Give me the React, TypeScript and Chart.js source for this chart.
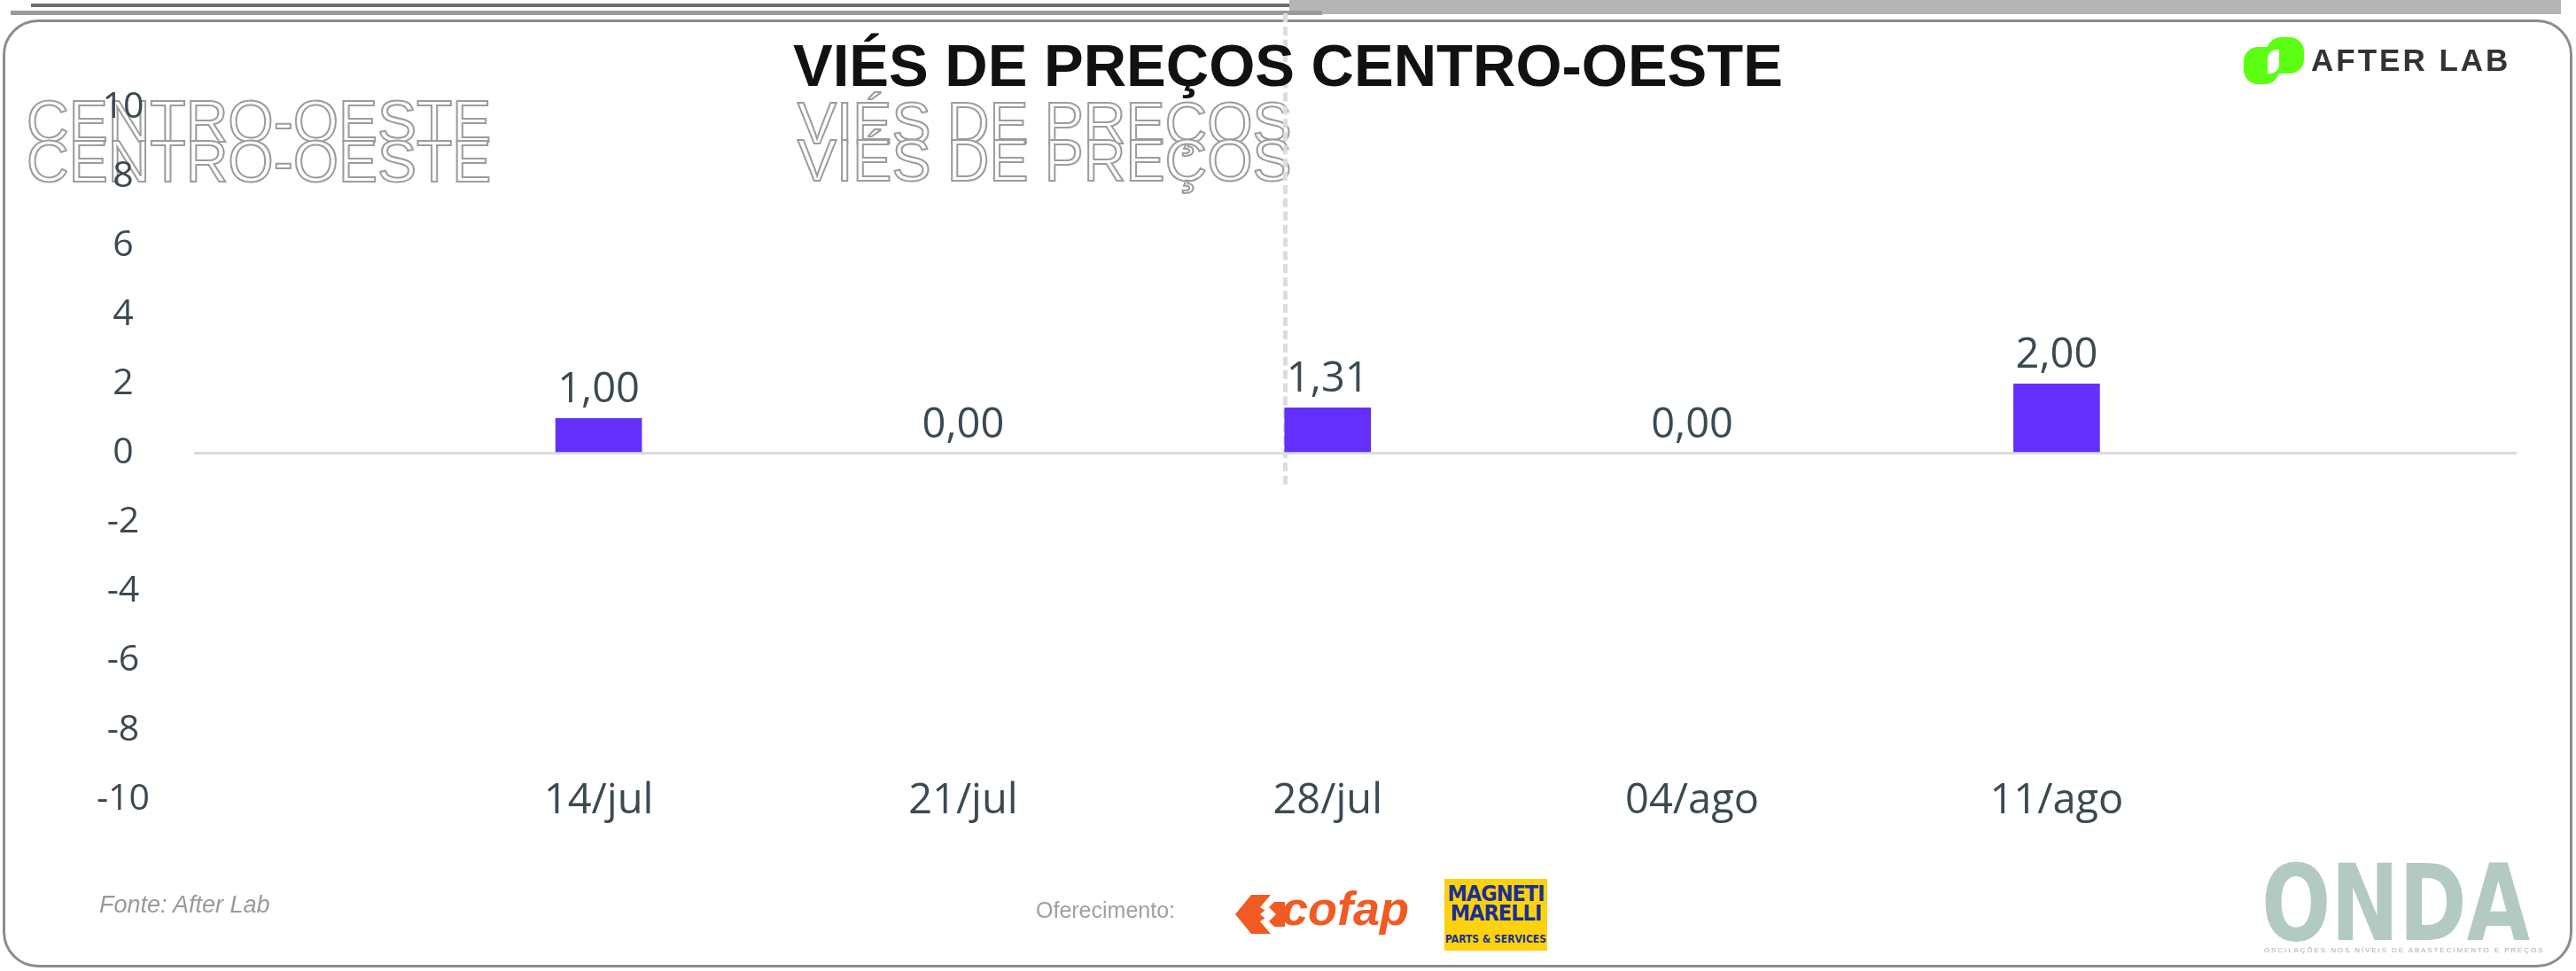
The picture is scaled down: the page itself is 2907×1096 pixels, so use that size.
import React, { useEffect, useRef } from 'react';
import { Chart, registerables } from 'chart.js';

Chart.register(...registerables);

// ---- data ----
const categories = ['14/jul', '21/jul', '28/jul', '04/ago', '11/ago'];
const values = [1.0, 0.0, 1.31, 0.0, 2.0];
const categoryPositions = [0, 1, 2, 3, 4];
const yMin = -10;
const yMax = 10;
const yStep = 2;
const xMin = -1.11;
const xMax = 5.262;

const TEXT = '#3b4a51';
const BAR = '#6330fb';

const fmt = (v: number) => v.toFixed(2).replace('.', ',');

const valueLabels = {
  id: 'valueLabels',
  afterDatasetsDraw(chart: any) {
    const ctx = chart.ctx;
    const meta = chart.getDatasetMeta(0);
    ctx.save();
    ctx.font = '47px "Open Sans"';
    ctx.fillStyle = TEXT;
    ctx.textAlign = 'center';
    ctx.textBaseline = 'alphabetic';
    meta.data.forEach((el: any, i: number) => {
      const top = Math.min(el.y, el.base);
      ctx.fillText(fmt(values[i]), el.x, top - 18);
    });
    ctx.restore();
  },
};

function ChartCanvas() {
  const ref = useRef<HTMLCanvasElement>(null);
  useEffect(() => {
    if (!ref.current) return;
    const chart = new Chart(ref.current, {
      type: 'bar',
      data: {
        datasets: [
          {
            data: categoryPositions.map((x, i) => ({ x, y: values[i] })),
            backgroundColor: (c: any) => (c.raw && c.raw.y === 0 ? 'rgba(0,0,0,0)' : BAR),
            borderWidth: 0,
            barThickness: 97,
          },
        ],
      },
      options: {
        animation: false,
        responsive: true,
        maintainAspectRatio: false,
        layout: { padding: { left: 0, right: 67, top: 121, bottom: 134 } },
        plugins: { legend: { display: false }, tooltip: { enabled: false } },
        scales: {
          x: {
            type: 'linear',
            offset: false,
            min: xMin,
            max: xMax,
            grid: { display: false, drawTicks: false },
            border: { display: false },
            afterBuildTicks: (s: any) => {
              s.ticks = categoryPositions.map((v) => ({ value: v }));
            },
            afterFit: (s: any) => {
              s.height = 60;
            },
            ticks: {
              callback: (v: any) => categories[v as number] ?? '',
              font: { family: 'Open Sans', size: 47 },
              color: TEXT,
              mirror: true,
              padding: -31,
              maxRotation: 0,
              autoSkip: false,
            },
          },
          y: {
            min: yMin,
            max: yMax,
            ticks: {
              stepSize: yStep,
              crossAlign: 'center',
              padding: 50,
              font: { family: 'Open Sans', size: 41 },
              color: TEXT,
            },
            grid: {
              drawTicks: false,
              color: (c: any) => (c.tick && c.tick.value === 0 ? '#d5dfdd' : 'rgba(0,0,0,0)'),
              lineWidth: 3,
            },
            border: { display: false },
            afterFit: (s: any) => {
              s.width = 219;
            },
          },
        },
      } as any,
      plugins: [valueLabels],
    });
    return () => chart.destroy();
  }, []);
  return (
    <div style={{ position: 'absolute', left: 0, top: 0, width: 2907, height: 1096 }}>
      <canvas ref={ref} style={{ display: 'block' }} />
    </div>
  );
}

const abs = (s: React.CSSProperties): React.CSSProperties => ({ position: 'absolute', margin: 0, ...s });

export default function App() {
  const ghost: React.CSSProperties = {
    fontFamily: '"Liberation Sans", Arial, sans-serif',
    fontSize: 66,
    lineHeight: 1,
    color: '#ffffff',
    WebkitTextStroke: '2px #9c9c9c',
    whiteSpace: 'nowrap',
  } as any;
  return (
    <div
      style={{
        position: 'fixed',
        left: 0,
        top: 0,
        width: 2907,
        height: 1096,
        background: '#ffffff',
        overflow: 'hidden',
      }}
    >
      {/* frame */}
      <div style={abs({ left: 1455, top: 0, width: 1435, height: 16, background: '#b4b4b4' })} />
      <div style={abs({ left: 35, top: 4, width: 1420, height: 4, background: '#6e6e6e' })} />
      <div style={abs({ left: 12, top: 12, width: 1480, height: 5, background: '#9a9a9a' })} />
      <div
        style={abs({
          left: 3,
          top: 22,
          width: 2900,
          height: 1070,
          border: '3px solid #8c8c8c',
          borderRadius: 40,
          boxSizing: 'border-box',
        })}
      />

      {/* ghost texts */}
      <div style={abs({ ...ghost, left: 30, top: 104 })}>CENTRO-OESTE</div>
      <div style={abs({ ...ghost, left: 30, top: 149 })}>CENTRO-OESTE</div>
      <div style={abs({ ...ghost, left: 900, top: 106 })}>VIÉS DE PREÇOS</div>
      <div style={abs({ ...ghost, left: 900, top: 148 })}>VIÉS DE PREÇOS</div>
      <div style={abs({ left: 1448, top: 15, width: 0, height: 532, borderLeft: '5px dashed #dcdcdc' })} />

      <ChartCanvas />

      {/* title */}
      <div
        style={abs({
          left: 0,
          top: 40,
          width: 2907,
          textAlign: 'center',
          fontFamily: '"Liberation Sans", Arial, sans-serif',
          fontWeight: 700,
          fontSize: 67,
          lineHeight: 1,
          color: '#111111',
          whiteSpace: 'nowrap',
        })}
      >
        VIÉS DE PREÇOS CENTRO-OESTE
      </div>

      {/* AFTER LAB logo */}
      <div style={abs({ left: 2558, top: 42, width: 42, height: 41, background: '#5cff12', borderRadius: '16px 16px 16px 4px' })} />
      <div style={abs({ left: 2532, top: 53, width: 40, height: 42, background: '#5cff12', borderRadius: '16px 4px 16px 16px' })} />
      <div
        style={abs({
          left: 2559,
          top: 56,
          width: 13,
          height: 27,
          background: '#ffffff',
          borderRadius: '10px 0 10px 0',
        })}
      />
      <div
        style={abs({
          left: 2608,
          top: 50,
          fontFamily: '"Liberation Sans", Arial, sans-serif',
          fontWeight: 700,
          fontSize: 35,
          letterSpacing: 3,
          lineHeight: 1,
          color: '#333333',
          whiteSpace: 'nowrap',
        })}
      >
        AFTER LAB
      </div>

      {/* footer */}
      <div
        style={abs({
          left: 112,
          top: 1008,
          fontFamily: '"Liberation Sans", Arial, sans-serif',
          fontStyle: 'italic',
          fontSize: 27,
          lineHeight: 1,
          color: '#9a9a9a',
          whiteSpace: 'nowrap',
        })}
      >
        Fonte: After Lab
      </div>
      <div
        style={abs({
          left: 1169,
          top: 1015,
          fontFamily: '"Liberation Sans", Arial, sans-serif',
          fontSize: 25,
          lineHeight: 1,
          color: '#a0a0a0',
          whiteSpace: 'nowrap',
        })}
      >
        Oferecimento:
      </div>

      {/* cofap */}
      <svg style={abs({ left: 1394, top: 1010, width: 56, height: 44 })} viewBox="0 0 56 44">
        <polygon points="18,0 40,0 28,14 40,22 28,30 40,44 18,44 0,22" fill="#f15a22" />
        <polygon points="30,22 44,8 56,8 56,36 44,36" fill="#f15a22" />
        <polygon points="28,22 38,14 46,22 38,30" fill="#ffffff" />
      </svg>
      <div
        style={abs({
          left: 1446,
          top: 998,
          fontFamily: '"Liberation Sans", Arial, sans-serif',
          fontWeight: 700,
          fontStyle: 'italic',
          fontSize: 54,
          lineHeight: 1,
          color: '#f15a22',
          whiteSpace: 'nowrap',
        })}
      >
        cofap
      </div>

      {/* Magneti Marelli */}
      <div
        style={abs({
          left: 1630,
          top: 992,
          width: 116,
          height: 81,
          background: '#fcd20f',
          textAlign: 'center',
          fontFamily: '"Liberation Sans Narrow", "DejaVu Sans Condensed", sans-serif',
          color: '#1b2f8f',
          fontWeight: 700,
        })}
      >
        <div style={{ position: 'absolute', left: 0, top: 6, width: 116, fontSize: 25, lineHeight: '22px', letterSpacing: -1 }}>
          MAGNETI
          <br />
          MARELLI
        </div>
        <div style={{ position: 'absolute', left: 0, top: 62, width: 116, fontSize: 12, lineHeight: '12px' }}>
          PARTS &amp; SERVICES
        </div>
      </div>

      {/* ONDA */}
      <div
        style={abs({
          left: 2552,
          top: 961,
          fontFamily: '"Liberation Sans Narrow", "DejaVu Sans Condensed", sans-serif',
          fontWeight: 700,
          fontSize: 119,
          lineHeight: 1,
          letterSpacing: 0,
          color: '#b3c9c3',
          whiteSpace: 'nowrap',
          transform: 'scaleX(0.86)',
          transformOrigin: 'left top',
        })}
      >
        ONDA
      </div>
      <div
        style={abs({
          left: 2555,
          top: 1069,
          width: 296,
          textAlign: 'center',
          fontFamily: '"Liberation Sans", Arial, sans-serif',
          fontSize: 8,
          lineHeight: 1,
          letterSpacing: 1.9,
          color: '#9fb0ab',
          whiteSpace: 'nowrap',
        })}
      >
        OSCILAÇÕES NOS NÍVEIS DE ABASTECIMENTO E PREÇOS
      </div>
    </div>
  );
}
